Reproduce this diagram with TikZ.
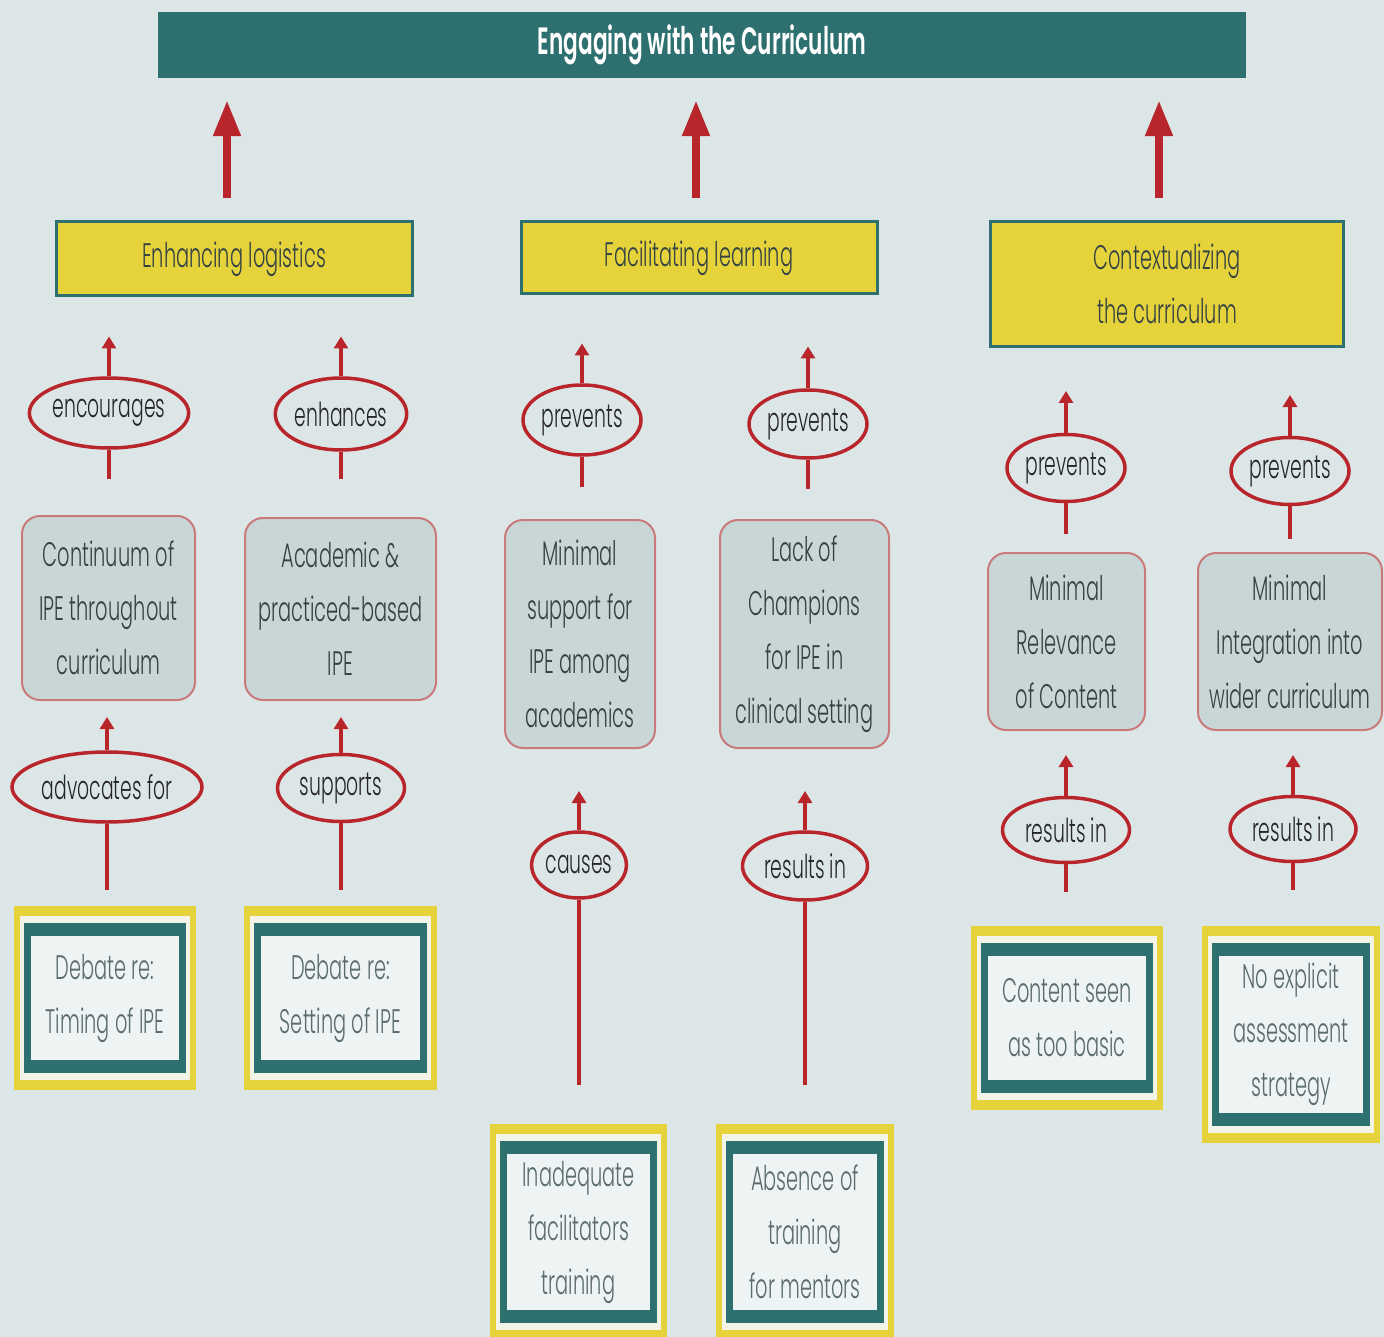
\documentclass[tikz,border=0pt]{standalone}
\usepackage{fontspec}
\setmainfont{Poppins}[FakeStretch=0.57, UprightFont=* Light, BoldFont=* SemiBold]
\usetikzlibrary{arrows.meta,shapes.geometric}

\definecolor{bgcol}{HTML}{DDE6E7}
\definecolor{teal}{HTML}{2E7070}
\definecolor{gold}{HTML}{E6D33C}
\definecolor{linkred}{HTML}{B8262C}
\definecolor{issuefill}{HTML}{C9D6D8}
\definecolor{issueline}{HTML}{C97A7A}
\definecolor{ink}{HTML}{334242}
\definecolor{softink}{HTML}{5A6C6C}
\definecolor{paper}{HTML}{EEF3F3}
\definecolor{gap}{HTML}{F3F3E8}

\tikzset{
  bodytext/.style={font=\fontsize{34}{54}\selectfont, align=center, text=ink},
  headbar/.style={fill=teal, minimum width=1088, minimum height=66, inner sep=0,
    text=white, font=\fontsize{38}{44}\selectfont\bfseries},
  theme/.style={bodytext, fill=gold, draw=teal, line width=3, inner sep=0},
  verb/.style={ellipse, draw=linkred, line width=3.5, fill=bgcol, inner sep=0,
    font=\fontsize{33}{40}\selectfont, text=black!85},
  issue/.style={bodytext, rounded corners=18, fill=issuefill, draw=issueline,
    line width=2, inner sep=0},
  cause/.style={bodytext, text=softink, fill=gold, inner sep=0,
    path picture={
      \fill[gap] ([shift={(6,10)}]path picture bounding box.north west)
        rectangle ([shift={(-6,-10)}]path picture bounding box.south east);
      \fill[teal] ([shift={(10,17)}]path picture bounding box.north west)
        rectangle ([shift={(-10,-17)}]path picture bounding box.south east);
      \fill[paper] ([shift={(17,30)}]path picture bounding box.north west)
        rectangle ([shift={(-17,-30)}]path picture bounding box.south east);
    }},
  bigarrow/.style={draw=linkred, line width=8,
    -{Triangle[width=26pt,length=36pt]}, shorten <=22pt, shorten >=22pt},
  smallarrow/.style={draw=linkred, line width=4, -{Triangle[width=14pt,length=12pt]}},
  stem/.style={draw=linkred, line width=4},
}

\begin{document}
\begin{tikzpicture}[x=1pt,y=-1pt]
  % canvas
  \fill[bgcol] (0,0) rectangle (1384,1337);
  \useasboundingbox (0,0) rectangle (1384,1337);

  % heading
  \node[headbar] (title) at (702,45) {Engaging with the Curriculum};

  % themes
  \node[theme, minimum width=356, minimum height=74] (yl1) at (234,259) {Enhancing logistics};
  \node[theme, minimum width=356, minimum height=72] (yl2) at (699,258) {Facilitating learning};
  \node[theme, minimum width=353, minimum height=125] (yl3) at (1167,284) {Contextualizing\\the curriculum};

  % theme -> heading
  \draw[bigarrow] ([xshift=-7pt]yl1.north) -- ([xshift=-7pt]yl1.north |- title.south);
  \draw[bigarrow] ([xshift=-3pt]yl2.north) -- ([xshift=-3pt]yl2.north |- title.south);
  \draw[bigarrow] ([xshift=-8pt]yl3.north) -- ([xshift=-8pt]yl3.north |- title.south);

  % issues
  \node[issue, minimum width=173, minimum height=184] (r1) at (108.5,608) {Continuum of\\IPE throughout\\curriculum};
  \node[issue, minimum width=191, minimum height=182] (r2) at (340.5,609) {Academic \&\\practiced-based\\IPE};
  \node[issue, minimum width=150, minimum height=228] (r3) at (580,634) {Minimal\\support for\\IPE among\\academics};
  \node[issue, minimum width=169, minimum height=228] (r4) at (804.5,634) {Lack of\\Champions\\for IPE in\\clinical setting};
  \node[issue, minimum width=157, minimum height=177] (r5) at (1066.5,641.5) {Minimal\\Relevance\\of Content};
  \node[issue, minimum width=184, minimum height=177] (r6) at (1290,641.5) {Minimal\\Integration into\\wider curriculum};

  % causes
  \node[cause, minimum width=182, minimum height=184] (b1) at (105,998) {Debate re:\\Timing of IPE};
  \node[cause, minimum width=193, minimum height=184] (b2) at (340.5,998) {Debate re:\\Setting of IPE};
  \node[cause, minimum width=177, minimum height=216] (b3) at (578.5,1232) {Inadequate\\facilitators\\training};
  \node[cause, minimum width=178, minimum height=216] (b4) at (805,1232) {Absence of\\training\\for mentors};
  \node[cause, minimum width=192, minimum height=184] (b5) at (1067,1018) {Content seen\\as too basic};
  \node[cause, minimum width=178, minimum height=217] (b6) at (1291,1034.5) {No explicit\\assessment\\strategy};

  % upper link labels
  \node[verb, minimum width=150, minimum height=70] (e1) at (109,413) {encourages};
  \node[verb, minimum width=130, minimum height=72] (e2) at (341,414) {enhances};
  \node[verb, minimum width=118, minimum height=70] (e3) at (582,420) {prevents};
  \node[verb, minimum width=118, minimum height=68] (e4) at (808,424) {prevents};
  \node[verb, minimum width=118, minimum height=67] (e5) at (1066,468) {prevents};
  \node[verb, minimum width=118, minimum height=67] (e6) at (1290,471) {prevents};

  % lower link labels
  \node[verb, minimum width=190, minimum height=70] (f1) at (107,787) {advocates for};
  \node[verb, minimum width=127, minimum height=67] (f2) at (341,788) {supports};
  \node[verb, minimum width=94,  minimum height=66] (f3) at (579,865) {causes};
  \node[verb, minimum width=125, minimum height=68] (f4) at (805,866) {results in};
  \node[verb, minimum width=127, minimum height=65] (f5) at (1066,830) {results in};
  \node[verb, minimum width=126, minimum height=65] (f6) at (1293,829) {results in};

  % issue -> theme
  \draw[stem, shorten <=36pt] (r1.north -| e1) -- (e1.south);
  \draw[stem, shorten <=38pt] (r2.north -| e2) -- (e2.south);
  \draw[stem, shorten <=32pt] (r3.north -| e3) -- (e3.south);
  \draw[stem, shorten <=30pt] (r4.north -| e4) -- (e4.south);
  \draw[stem, shorten <=18pt] (r5.north -| e5) -- (e5.south);
  \draw[stem, shorten <=13pt] (r6.north -| e6) -- (e6.south);
  \draw[smallarrow, shorten >=39pt] (e1.north) -- (e1.north |- yl1.south);
  \draw[smallarrow, shorten >=39pt] (e2.north) -- (e2.north |- yl1.south);
  \draw[smallarrow, shorten >=48pt] (e3.north) -- (e3.north |- yl2.south);
  \draw[smallarrow, shorten >=51pt] (e4.north) -- (e4.north |- yl2.south);
  \draw[smallarrow, shorten >=43pt] (e5.north) -- (e5.north |- yl3.south);
  \draw[smallarrow, shorten >=47pt] (e6.north) -- (e6.north |- yl3.south);

  % cause -> issue
  \draw[stem, shorten <=16pt] (b1.north -| f1) -- (f1.south);
  \draw[stem, shorten <=16pt] (b2.north -| f2) -- (f2.south);
  \draw[stem, shorten <=39pt] (b3.north -| f3) -- (f3.south);
  \draw[stem, shorten <=39pt] (b4.north -| f4) -- (f4.south);
  \draw[stem, shorten <=34pt] (b5.north -| f5) -- (f5.south);
  \draw[stem, shorten <=36pt] (b6.north -| f6) -- (f6.south);
  \draw[smallarrow, shorten >=16pt] (f1.north) -- (f1.north |- r1.south);
  \draw[smallarrow, shorten >=16pt] (f2.north) -- (f2.north |- r2.south);
  \draw[smallarrow, shorten >=42pt] (f3.north) -- (f3.north |- r3.south);
  \draw[smallarrow, shorten >=42pt] (f4.north) -- (f4.north |- r4.south);
  \draw[smallarrow, shorten >=24pt] (f5.north) -- (f5.north |- r5.south);
  \draw[smallarrow, shorten >=24pt] (f6.north) -- (f6.north |- r6.south);
\end{tikzpicture}
\end{document}
